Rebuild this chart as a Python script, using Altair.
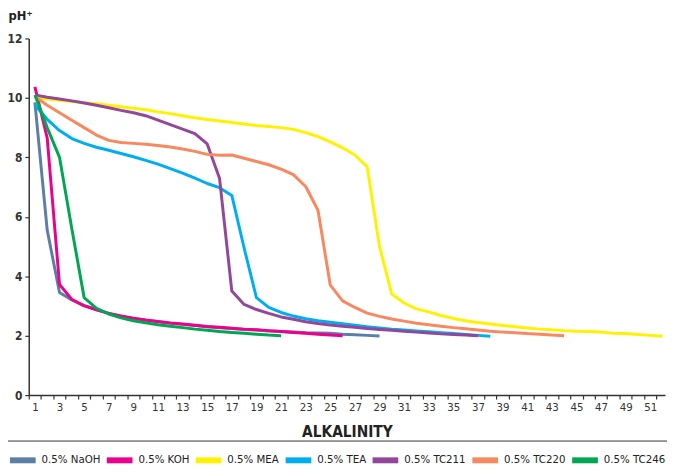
import altair as alt
import pandas as pd

series_names = ["0.5% NaOH", "0.5% KOH", "0.5% MEA", "0.5% TEA",
                "0.5% TC211", "0.5% TC220", "0.5% TC246"]
series_colors = ["#5B7FA6", "#EC008C", "#FFF200", "#00AEEF",
                 "#93479B", "#F7885F", "#00A651"]

naoh = [9.85, 5.55, 3.45, 3.2, 3.02, 2.88, 2.75, 2.65, 2.58, 2.52,
        2.47, 2.42, 2.38, 2.34, 2.3, 2.27, 2.24, 2.21, 2.19, 2.16,
        2.14, 2.12, 2.1, 2.09, 2.08, 2.05, 2.03, 2.01, 1.99]
koh = [10.37, 8.65, 3.72, 3.22, 3.0, 2.87, 2.75, 2.66, 2.59, 2.53,
       2.48, 2.43, 2.39, 2.35, 2.31, 2.28, 2.25, 2.22, 2.2, 2.17,
       2.14, 2.11, 2.08, 2.05, 2.02, 2.0]
mea = [10.0, 9.96, 9.92, 9.88, 9.84, 9.8, 9.75, 9.7, 9.65, 9.6,
       9.53, 9.47, 9.4, 9.33, 9.27, 9.22, 9.17, 9.12, 9.07, 9.04,
       9.0, 8.94, 8.83, 8.7, 8.52, 8.32, 8.08, 7.68, 5.0, 3.4,
       3.1, 2.9, 2.8, 2.68, 2.58, 2.5, 2.44, 2.39, 2.34, 2.3,
       2.26, 2.22, 2.2, 2.17, 2.15, 2.14, 2.12, 2.08, 2.07, 2.04,
       2.01, 1.98]
tea = [9.76, 9.28, 8.9, 8.63, 8.47, 8.34, 8.24, 8.13, 8.02, 7.9,
       7.77, 7.62, 7.47, 7.3, 7.12, 6.98, 6.72, 4.95, 3.28, 2.95,
       2.78, 2.66, 2.57, 2.5, 2.45, 2.4, 2.35, 2.3, 2.26, 2.22,
       2.19, 2.16, 2.13, 2.1, 2.07, 2.04, 2.01, 1.98]
tc211 = [10.1, 10.02, 9.96, 9.9, 9.83, 9.75, 9.67, 9.58, 9.5, 9.4,
         9.25, 9.1, 8.95, 8.8, 8.45, 7.3, 3.5, 3.05, 2.88, 2.75,
         2.63, 2.55, 2.47, 2.41, 2.36, 2.32, 2.28, 2.24, 2.21, 2.18,
         2.15, 2.12, 2.09, 2.06, 2.04, 2.02, 2.0]
tc220 = [10.05, 9.75, 9.5, 9.25, 9.0, 8.75, 8.57, 8.5, 8.47, 8.44,
         8.4, 8.35, 8.28, 8.2, 8.1, 8.07, 8.08, 7.97, 7.86, 7.75,
         7.6, 7.42, 7.02, 6.22, 3.7, 3.17, 2.95, 2.76, 2.65, 2.56,
         2.49, 2.42, 2.37, 2.32, 2.27, 2.23, 2.19, 2.15, 2.12, 2.1,
         2.07, 2.05, 2.02, 2.0]
tc246 = [10.1, 9.0, 8.0, 5.6, 3.28, 2.92, 2.73, 2.6, 2.5, 2.43,
         2.37, 2.32, 2.27, 2.22, 2.18, 2.14, 2.11, 2.08, 2.05, 2.02,
         2.0]

x_ticks = list(range(1, 53))
y_ticks = [0, 2, 4, 6, 8, 10, 12]

all_series = [naoh, koh, mea, tea, tc211, tc220, tc246]
rows = []
for k, (name, vals) in enumerate(zip(series_names, all_series)):
    for i, v in enumerate(vals):
        rows.append({"series": name, "alk": i + 1, "ph": v, "k": k})
df = pd.DataFrame(rows)

FONT = "DejaVu Sans Condensed, Liberation Sans Narrow, Liberation Sans, sans-serif"
W = 644
XMIN, XMAX = 0.5, 52.2
unit = W / (XMAX - XMIN)

chart = alt.Chart(df).mark_line(strokeWidth=3, strokeJoin="round").encode(
    x=alt.X("alk:Q",
            scale=alt.Scale(domain=[XMIN, XMAX], nice=False, zero=False),
            axis=alt.Axis(values=x_ticks,
                          labelExpr="datum.value % 2 == 1 ? datum.label : ''",
                          tickOffset=-unit / 2, labelOffset=unit / 2,
                          tickSize=4, labelPadding=3, labelFontSize=11.5,
                          labelFont=FONT, labelColor="#333",
                          title="ALKALINITY", titleFont=FONT,
                          titleFontSize=15.5, titleFontWeight="bold",
                          titleColor="#222", titlePadding=11,
                          grid=False, labelOverlap=False)),
    y=alt.Y("ph:Q",
            scale=alt.Scale(domain=[0, 12], nice=False),
            axis=alt.Axis(values=y_ticks, tickSize=4, labelPadding=3,
                          labelFontSize=12, labelFont=FONT,
                          labelFontWeight="bold", labelColor="#333",
                          title="pH⁺", titleFont=FONT, titleFontSize=13,
                          titleFontWeight="bold", titleColor="#222",
                          titleAngle=0, titleAlign="left",
                          titleBaseline="alphabetic", titleX=-21, titleY=-19,
                          grid=False)),
    color=alt.Color("series:N",
                    scale=alt.Scale(domain=series_names, range=series_colors),
                    legend=alt.Legend(orient="none", legendX=-26, legendY=407,
                                      direction="horizontal", title=None,
                                      symbolType="stroke", symbolStrokeWidth=6,
                                      symbolSize=676, labelFont=FONT,
                                      labelFontSize=11.5, labelColor="#222",
                                      strokeColor="#333", padding=4,
                                      columnPadding=-6, labelOffset=3)),
    order=alt.Order("alk:Q"),
).properties(
    width=W, height=361,
    autosize=alt.AutoSizeParams(type="none"),
    padding={"left": 21, "top": 28, "right": 2, "bottom": 75},
).configure_view(stroke=None).configure_axis(
    domainColor="#333", domainWidth=1.5, tickColor="#333", tickWidth=1.2
)

chart.save("out.html", embed_options={"renderer": "svg", "actions": False})
